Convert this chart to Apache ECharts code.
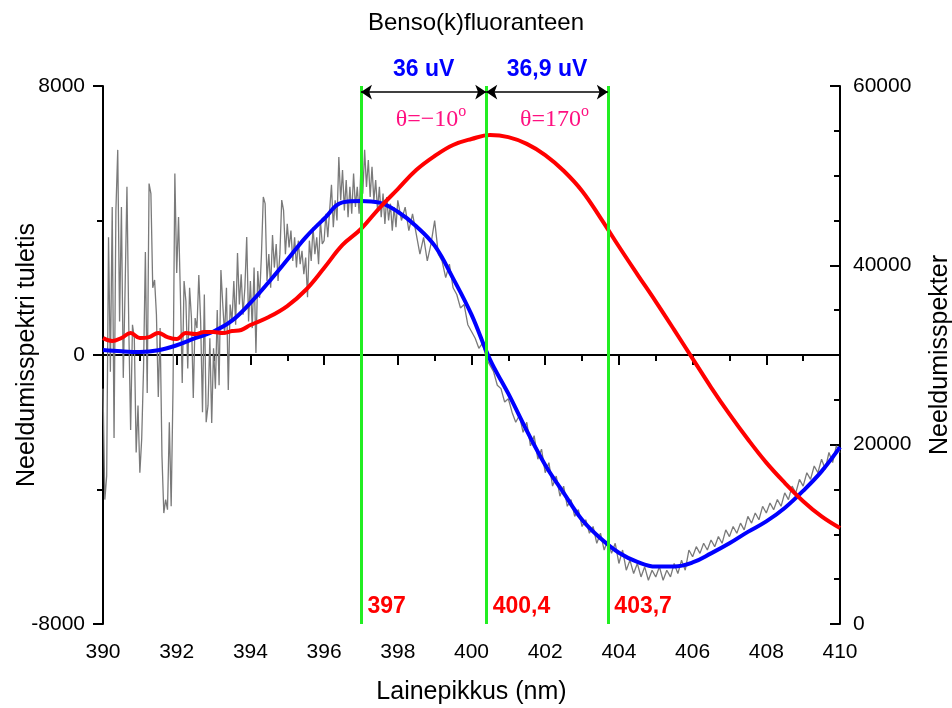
<!DOCTYPE html>
<html>
<head>
<meta charset="utf-8">
<script src="https://cdn.jsdelivr.net/npm/echarts@6/dist/echarts.min.js"></script>
<style>
  html, body { margin: 0; padding: 0; background: #fff; }
  #main { width: 952px; height: 708px; }
</style>
</head>
<body>
<div id="main"></div>
<script>
// measured derivative spectrum (grey)
// part A: 390.00 .. 397.95 nm, step 0.05 nm (noisy start)
const grayAStart = 390, grayAStep = 0.05;
const grayA = [
  -1000, -4300, -3600, 3500, -500, 4400, -2470, 4300, 6100, 1000,
  4400, -680, 2000, 5000, 800, -2230, 900, 500, -2900, -1500,
  -3500, -2500, -400, 3060, -1130, 5100, 4800, 2000, 2230, 1200,
  -1250, 800, -3000, -4700, -4300, -4600, -2000, -4500, -1000, 5400,
  2440, 4100, 1800, -830, 2200, 1600, -400, 2000, 1100, -1280,
  1100, 800, 2380, 1000, -1700, 1800, -2000, -1500, 500, -2020,
  200, -1000, 1340, -900, 2530, 1500, 600, 2000, -1040, 1500,
  1000, 2200, 900, 3030, 1500, 2400, 1200, 2000, 3510, 1000,
  2200, 800, 2600, 60, 2500, 1700, 3000, 4700, 4500, 2200,
  3000, 2000, 3570, 2600, 3300, 2200, 3000, 4610, 4300, 3000,
  3900, 3200, 3700, 2800, 3500, 2600, 3400, 2700, 3100, 2400,
  2900, 1720, 3400, 2800, 3800, 3000, 3500, 2700, 4000, 3300,
  3400, 4200, 3500, 4300, 5060, 3800, 4600, 4000, 5890, 4600,
  5500, 4300, 5200, 4100, 5000, 4200, 5400, 4400, 5000, 4200,
  5600, 4800, 6100, 5000, 5800, 4700, 5600, 4600, 5200, 4300,
  5000, 4100, 4800, 3900, 4700, 4000, 4500, 3700, 4400, 3800
];
// part B: 398.0 .. 410.0 nm, step 0.1 nm
const grayBStart = 398, grayBStep = 0.1;
const grayB = [
  4600, 4000, 4400, 3700, 4200, 3600, 3000, 3500, 2800, 3300,
  4000, 3000, 2800, 2300, 2700, 2000, 1800, 1400, 1500, 900,
  700, 500, 200, 350, -100, -300, -500, -900, -1000, -1400,
  -1300, -1700, -2000, -1800, -2300, -2000, -2700, -2400, -3100, -2800,
  -3500, -3200, -3900, -3600, -4200, -3900, -4500, -4300, -4800, -4600,
  -5100, -4900, -5300, -5100, -5600, -5300, -5800, -5500, -5900, -5600,
  -6200, -5800, -6400, -6100, -6500, -6200, -6600, -6300, -6700, -6400,
  -6600, -6300, -6700, -6400, -6600, -6200, -6500, -6100, -6400, -5800,
  -6000, -5700, -5900, -5600, -5800, -5500, -5700, -5400, -5600, -5200,
  -5400, -5100, -5300, -5000, -5200, -4800, -5000, -4700, -4900, -4500,
  -4700, -4400, -4600, -4300, -4500, -4100, -4300, -3900, -4100, -3700,
  -3900, -3500, -3700, -3300, -3500, -3100, -3400, -2900, -3200, -2700,
  -2900
];

// smoothed derivative (blue), step 0.5 nm
const blueStart = 390, blueStep = 0.5;
const blueVals = [
  150, 110, 90, 140, 290, 500, 700, 1020, 1550, 2170,
  2830, 3500, 4050, 4540, 4580, 4530, 4260, 3830, 3250, 2280,
  1200, -130, -1150, -2250, -3270, -4100, -4900, -5450, -5880, -6150,
  -6290, -6290, -6170, -5900, -5600, -5260, -4950, -4550, -4040, -3460,
  -2740
];

// absorption spectrum (red), right axis
const redX = [390, 390.25, 390.5, 390.75, 391, 391.25, 391.5, 391.75, 392, 392.25,
  392.5, 392.75, 393, 393.25, 393.5, 393.75, 394, 394.5, 395, 395.5,
  396, 396.5, 397, 397.5, 398, 398.5, 399, 399.5, 400, 400.5,
  401, 401.5, 402, 402.5, 403, 403.5, 404, 404.5, 405, 405.5,
  406, 406.5, 407, 407.5, 408, 408.5, 409, 409.5, 410];
const redY = [31900, 31560, 31900, 32450, 31900, 32000, 32450, 32000, 31780, 32450,
  32340, 32560, 32560, 32450, 32670, 32790, 33340, 34240, 35460, 37250,
  39700, 42270, 44050, 46390, 48510, 50630, 52190, 53420, 54090, 54530,
  54300, 53550, 52300, 50550, 48300, 45300, 42100, 39000, 35950, 32800,
  29600, 26400, 23400, 20600, 18000, 15750, 13700, 12000, 10700];

const markers = [397, 400.4, 403.7];
const markerLabels = ['397', '400,4', '403,7'];
const voltLabels = ['36 uV', '36,9 uV'];
const angleLabels = ['θ=−10', 'θ=170'];

const sans = 'Liberation Sans, Arial, sans-serif';
const serif = 'Liberation Serif, Times New Roman, serif';

const grayData = grayA.map((v, i) => [+(grayAStart + i * grayAStep).toFixed(2), v])
  .concat(grayB.map((v, i) => [+(grayBStart + i * grayBStep).toFixed(2), v]));
const blueData = blueVals.map((v, i) => [blueStart + i * blueStep, v]);
const redData = redX.map((x, i) => [x, redY[i]]);

// annotation texts placed in data coordinates
const textData = [];
voltLabels.forEach((t, i) => {
  textData.push({
    value: [(markers[i] + markers[i + 1]) / 2, 8490],
    label: { formatter: t, color: '#0000ff', fontSize: 23, fontWeight: 'bold', fontFamily: sans }
  });
});
angleLabels.forEach((t, i) => {
  textData.push({
    value: [(markers[i] + markers[i + 1]) / 2 + 0.2, 7000],
    label: {
      formatter: '{m|' + t + '}{s|o}',
      rich: {
        m: { color: '#ff1080', fontSize: 24, fontFamily: serif, lineHeight: 28 },
        s: { color: '#ff1080', fontSize: 16, fontFamily: serif, lineHeight: 15,
          padding: [0, 0, 14, 0], verticalAlign: 'bottom' }
      }
    }
  });
});
markerLabels.forEach((t, i) => {
  textData.push({
    value: [markers[i], -7490],
    label: { formatter: t, position: 'right', distance: 6, align: 'left',
      color: '#ff0000', fontSize: 23, fontWeight: 'bold', fontFamily: sans }
  });
});

const arrowData = [];
for (let i = 0; i < markers.length - 1; i++) {
  arrowData.push([{ coord: [markers[i], 7820] }, { coord: [markers[i + 1], 7820] }]);
}

const chart = echarts.init(document.getElementById('main'));
const axisBlack = { color: '#000', width: 2 };

chart.setOption({
  animation: false,
  backgroundColor: '#fff',
  title: {
    text: 'Benso(k)fluoranteen',
    left: 'center',
    top: 6,
    textStyle: { color: '#000', fontSize: 24, fontWeight: 'normal', fontFamily: sans }
  },
  grid: { left: 103, right: 112, top: 86, bottom: 84, containLabel: false, outerBoundsMode: 'none' },
  xAxis: {
    type: 'value',
    min: 390, max: 410, interval: 2,
    name: 'Lainepikkus (nm)',
    nameLocation: 'middle',
    nameGap: 56,
    nameMoveOverlap: false,
    nameTextStyle: { color: '#000', fontSize: 25, fontFamily: sans },
    axisLine: { show: true, lineStyle: axisBlack },
    axisTick: { show: true, length: 10, lineStyle: axisBlack },
    minorTick: { show: true, splitNumber: 2, length: 6, lineStyle: axisBlack },
    splitLine: { show: false },
    axisLabel: { color: '#000', fontSize: 21, margin: 18, fontFamily: sans }
  },
  yAxis: [
    {
      type: 'value',
      min: -8000, max: 8000, interval: 8000,
      name: 'Neeldumisspektri tuletis',
      nameLocation: 'middle',
      nameRotate: 90,
      nameGap: 63,
      nameMoveOverlap: false,
      nameTextStyle: { color: '#000', fontSize: 25, fontFamily: sans },
      axisLine: { show: true, lineStyle: axisBlack },
      axisTick: { show: true, length: 10, lineStyle: axisBlack },
      minorTick: { show: true, splitNumber: 2, length: 6, lineStyle: axisBlack },
      splitLine: { show: false },
      axisLabel: { color: '#000', fontSize: 21, margin: 18, fontFamily: sans, formatter: v => String(v) }
    },
    {
      type: 'value',
      position: 'right',
      min: 0, max: 60000, interval: 20000,
      name: 'Neeldumisspekter',
      nameLocation: 'middle',
      nameRotate: 90,
      nameGap: 88,
      nameMoveOverlap: false,
      nameTextStyle: { color: '#000', fontSize: 25, fontFamily: sans },
      axisLine: { show: true, lineStyle: axisBlack },
      axisTick: { show: true, inside: true, length: 10, lineStyle: axisBlack },
      minorTick: { show: true, splitNumber: 4, length: 6, lineStyle: axisBlack },
      splitLine: { show: false },
      axisLabel: { color: '#000', fontSize: 21, margin: 13, fontFamily: sans, formatter: v => String(v) }
    }
  ],
  series: [
    {
      name: 'measured',
      type: 'line',
      yAxisIndex: 0,
      data: grayData,
      showSymbol: false,
      z: 1,
      lineStyle: { color: '#7a7a7a', width: 1.3 },
      markLine: {
        silent: true,
        z: 1,
        symbol: 'none',
        label: { show: false },
        lineStyle: { color: '#000', width: 2, type: 'solid' },
        data: [{ yAxis: 0 }]
      }
    },
    {
      name: 'smoothed',
      type: 'line',
      yAxisIndex: 0,
      data: blueData,
      smooth: 0.4,
      showSymbol: false,
      z: 2,
      lineStyle: { color: '#0000ff', width: 4 }
    },
    {
      name: 'absorption',
      type: 'line',
      yAxisIndex: 1,
      data: redData,
      smooth: 0.4,
      showSymbol: false,
      z: 3,
      lineStyle: { color: '#ff0000', width: 4 }
    },
    {
      name: 'markers',
      type: 'line',
      yAxisIndex: 0,
      data: [],
      z: 5,
      markLine: {
        silent: true,
        z: 5,
        symbol: 'none',
        label: { show: false },
        lineStyle: { color: '#22ee22', width: 3, type: 'solid' },
        data: markers.map(x => ({ xAxis: x }))
      }
    },
    {
      name: 'arrows',
      type: 'line',
      yAxisIndex: 0,
      data: [],
      z: 5,
      markLine: {
        silent: true,
        z: 5,
        symbol: ['arrow', 'arrow'],
        symbolSize: 11,
        label: { show: false },
        lineStyle: { color: '#000', width: 1.5, type: 'solid' },
        data: arrowData
      }
    },
    {
      name: 'texts',
      type: 'scatter',
      yAxisIndex: 0,
      silent: true,
      clip: false,
      z: 6,
      symbolSize: 1,
      itemStyle: { color: 'rgba(0,0,0,0)', opacity: 1 },
      label: { show: true, position: 'inside', align: 'center', verticalAlign: 'middle' },
      data: textData
    }
  ]
});
</script>
</body>
</html>
